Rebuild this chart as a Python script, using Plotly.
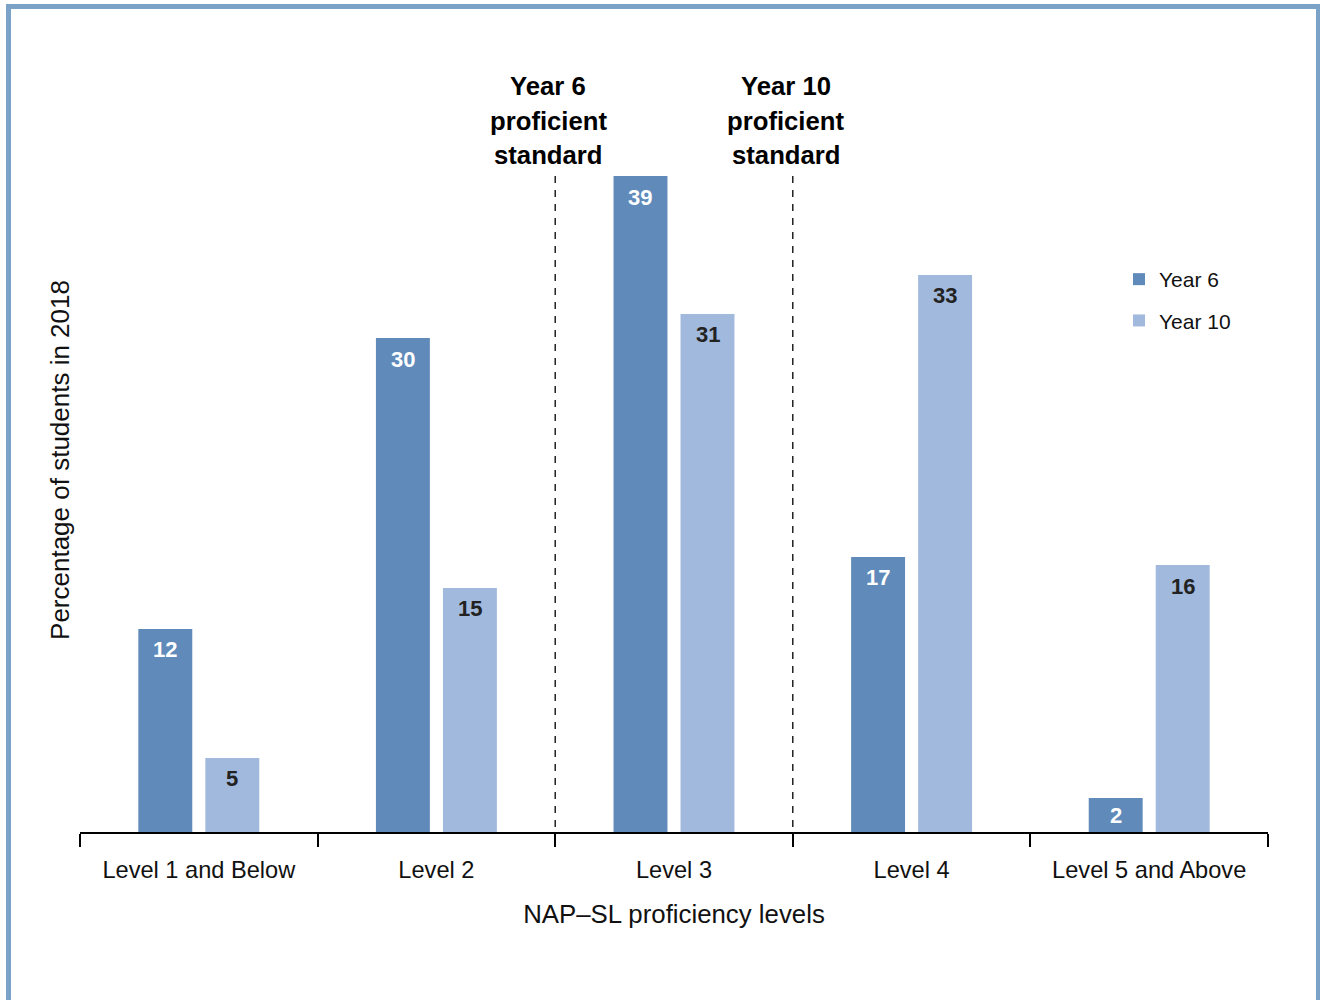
import plotly.graph_objects as go

# ---- data ----
levels = ["Level 1 and Below", "Level 2", "Level 3", "Level 4", "Level 5 and Above"]
year6_values = [12.07, 29.37, 39.0, 16.35, 2.02]
year10_values = [4.40, 14.51, 30.80, 33.12, 15.87]
year6_labels = ["12", "30", "39", "17", "2"]
year10_labels = ["5", "15", "31", "33", "16"]
series_names = ["Year 6", "Year 10"]
standard_titles = ["Year 6", "Year 10"]
standard_boundaries = [1.5, 2.5]   # boundary between Level 2/3 and Level 3/4
x_title = "NAP–SL proficiency levels"
y_title = "Percentage of students in 2018"

# ---- layout geometry ----
W, H = 1320, 1000
ML, MR, MT, MB = 80, 52, 88, 168
PW, PH = W - ML - MR, H - MT - MB
PX_PER_UNIT = 16.82
YMAX = PH / PX_PER_UNIT
BARGAP, BARGROUPGAP = 0.436, 0.195
CAT_PX = PW / len(levels)
HALF_SLOT_PX = (1 - BARGAP) / 4 * CAT_PX   # offset of each bar centre from category centre

FONT = "Liberation Sans, Arial, Helvetica, sans-serif"
C6 = "#5f8aba"
C10 = "#a0b9dd"
BORDER = "#7ba3c8"


def px_to_paper_x(px):
    return (px - ML) / PW


def px_to_paper_y(py):
    return (H - MB - py) / PH


fig = go.Figure()
annotations = []
for k, (name, vals, labs, col, tcol) in enumerate([
    (series_names[0], year6_values, year6_labels, C6, "white"),
    (series_names[1], year10_values, year10_labels, C10, "#222222"),
]):
    fig.add_trace(go.Bar(
        name=name, x=levels, y=vals,
        marker=dict(color=col, line=dict(width=0)),
        legendgroup=name, hoverinfo="skip",
    ))
    sign = -1 if k == 0 else 1
    for lev, v, lab in zip(levels, vals, labs):
        bar_h = v * PX_PER_UNIT
        drop = min(21, bar_h / 2)
        annotations.append(dict(
            x=lev, xref="x", y=v, yref="y", text=lab, showarrow=False,
            xanchor="center", yanchor="middle",
            xshift=sign * HALF_SLOT_PX, yshift=-drop,
            font=dict(family=FONT, size=22, color=tcol, weight="bold"),
        ))

shapes = []
for b in standard_boundaries:
    shapes.append(dict(type="line", xref="x", yref="y", x0=b, x1=b, y0=max(year6_values), y1=0,
                       line=dict(color="black", width=1.3, dash="7px,7px"), layer="below"))
# outer border
shapes.append(dict(type="rect", xref="paper", yref="paper",
                   x0=px_to_paper_x(8.5), x1=px_to_paper_x(1318.5),
                   y0=px_to_paper_y(1010), y1=px_to_paper_y(6.5),
                   line=dict(color=BORDER, width=5), fillcolor="rgba(0,0,0,0)"))

for b, t in zip(standard_boundaries, standard_titles):
    for i, line in enumerate([t, "proficient", "standard"]):
        annotations.append(dict(
            x=b, xref="x", y=px_to_paper_y(86), yref="paper",
            text=line, showarrow=False, xanchor="center", yanchor="middle",
            xshift=-7, yshift=-34.5 * i,
            font=dict(family=FONT, size=25.7, color="black", weight="bold"),
        ))

fig.update_layout(
    width=W, height=H,
    margin=dict(l=ML, r=MR, t=MT, b=MB, autoexpand=False),
    paper_bgcolor="white", plot_bgcolor="white",
    barmode="group", bargap=BARGAP, bargroupgap=BARGROUPGAP,
    font=dict(family=FONT, color="black"),
    showlegend=True,
    legend=dict(x=px_to_paper_x(1119), y=px_to_paper_y(259), xanchor="left", yanchor="top",
                font=dict(family=FONT, size=21, color="#111111"),
                tracegroupgap=11, bgcolor="rgba(0,0,0,0)", itemclick=False),
    xaxis=dict(
        type="category", range=[-0.5, 4.5], tickson="boundaries",
        ticks="outside", ticklen=13, tickwidth=2, tickcolor="black",
        showline=True, linecolor="black", linewidth=2,
        showgrid=False, zeroline=False, ticklabelstandoff=16,
        tickfont=dict(family=FONT, size=23.6, color="#111111"),
        title=dict(text=x_title, font=dict(family=FONT, size=25.8, color="#111111"), standoff=23),
    ),
    yaxis=dict(
        range=[0, YMAX], showticklabels=False, ticks="", showgrid=False,
        zeroline=False, showline=False,
        title=dict(text=y_title, font=dict(family=FONT, size=26, color="#111111"), standoff=1),
    ),
    shapes=shapes, annotations=annotations,
)

fig.write_html("out.html", post_script="document.body.style.margin='0px';",
               config={"displayModeBar": False})
